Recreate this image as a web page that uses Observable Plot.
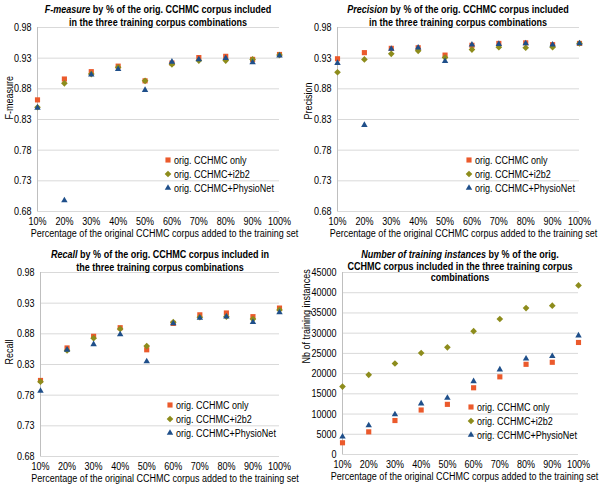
<!DOCTYPE html>
<html><head><meta charset="utf-8">
<script src="https://cdn.jsdelivr.net/npm/d3@7"></script>
<script src="https://cdn.jsdelivr.net/npm/@observablehq/plot@0.6"></script>
<style>
body{margin:0;background:#fff;}
#wrap{position:relative;width:600px;height:489px;overflow:hidden;background:#fff;}
.panel{position:absolute;}
.panel svg{display:block;}
.title{position:absolute;text-align:center;font-weight:bold;font-size:11px;color:#000;white-space:nowrap;transform:scaleX(0.82);transform-origin:50% 0;}
.overlay{position:absolute;left:0;top:0;pointer-events:none;}
</style>
</head><body>
<div id="wrap"></div>
<script>
const FONT = '"Liberation Sans",Arial,sans-serif';
const SQUEEZE = 0.82;

// Categories
const pct = [10, 20, 30, 40, 50, 60, 70, 80, 90, 100];
const seriesNames = ["orig. CCHMC only", "orig. CCHMC+i2b2", "orig. CCHMC+PhysioNet"];
const seriesColors = ["#EB5A2C", "#8D8C1C", "#1F4F8A"];
const seriesSymbols = ["square", "diamond2", "triangle"];
const xLabel = "Percentage of the original CCHMC corpus added to the training set";

// F-measure
const fOnly    = [0.862, 0.896, 0.908, 0.917, 0.893, 0.922, 0.931, 0.933, 0.928, 0.936];
const fI2b2    = [0.850, 0.889, 0.904, 0.915, 0.893, 0.920, 0.926, 0.926, 0.928, 0.935];
const fPhysio  = [0.849, 0.698, 0.903, 0.912, 0.878, 0.924, 0.928, 0.930, 0.923, 0.934];
// Precision
const pOnly    = [0.929, 0.939, 0.946, 0.947, 0.935, 0.951, 0.954, 0.955, 0.952, 0.954];
const pI2b2    = [0.907, 0.928, 0.937, 0.942, 0.931, 0.944, 0.948, 0.947, 0.948, 0.954];
const pPhysio  = [0.922, 0.821, 0.945, 0.947, 0.925, 0.952, 0.953, 0.954, 0.952, 0.954];
// Recall
const rOnly    = [0.804, 0.857, 0.876, 0.890, 0.854, 0.897, 0.911, 0.914, 0.908, 0.922];
const rI2b2    = [0.802, 0.853, 0.873, 0.888, 0.860, 0.899, 0.907, 0.908, 0.904, 0.919];
const rPhysio  = [0.787, 0.854, 0.863, 0.879, 0.835, 0.897, 0.906, 0.908, 0.899, 0.915];
// Number of training instances
const nOnly    = [2900, 5600, 8400, 11000, 12400, 16500, 19200, 22300, 22800, 27700];
const nI2b2    = [16800, 19700, 22500, 25100, 26500, 30500, 33500, 36200, 36800, 41800];
const nPhysio  = [4400, 7200, 9900, 12600, 14000, 18100, 21000, 23700, 24300, 29400];

// Tick labels
const scoreTicks = [0.68, 0.73, 0.78, 0.83, 0.88, 0.93, 0.98];
const countTicks = [0, 5000, 10000, 15000, 20000, 25000, 30000, 35000, 40000, 45000];

const panels = [
  {left: 0, top: 0, h: 245, mL: 37, mR: 21, mT: 27, mB: 34, domain: [0.68, 0.98], ticks: scoreTicks, fmt: d3.format(".2f"),
   yLabel: "F-measure", yLabX: 9, values: [fOnly, fI2b2, fPhysio],
   title: "<i>F-measure</i> by % of the orig. CCHMC corpus included<br>in the three training corpus combinations", lh: 13, tTop: 3, legX: 168, legY: 160, xdx: 6},
  {left: 300, top: 0, h: 245, mL: 37, mR: 21, mT: 27, mB: 34, domain: [0.68, 0.98], ticks: scoreTicks, fmt: d3.format(".2f"),
   yLabel: "Precision", yLabX: 8, values: [pOnly, pI2b2, pPhysio],
   title: "<i>Precision</i> by % of the orig. CCHMC corpus included<br>in the three training corpus combinations", lh: 13, tTop: 3, legX: 169, legY: 160, xdx: 5},
  {left: 0, top: 245, h: 244, mL: 40, mR: 21, mT: 27, mB: 33, domain: [0.68, 0.98], ticks: scoreTicks, fmt: d3.format(".2f"),
   yLabel: "Recall", yLabX: 9, values: [rOnly, rI2b2, rPhysio],
   title: "<i>Recall</i> by % of the orig. CCHMC corpus included in<br>the three training corpus combinations", lh: 13, tTop: 3, legX: 170, legY: 160, xdx: 5},
  {left: 300, top: 245, h: 244, mL: 42, mR: 22, mT: 27, mB: 35, domain: [0, 45000], ticks: countTicks, fmt: d => String(d),
   yLabel: "Nb of training instances", yLabX: 6, values: [nOnly, nI2b2, nPhysio],
   title: "<i>Number of training instances</i> by % of the orig.<br>CCHMC corpus included in the three training corpus<br>combinations", lh: 11.5, tTop: 4, legX: 171, legY: 162, xdx: 4}
];

const wrap = document.getElementById("wrap");
const symMap = {square: d3.symbolSquare, diamond2: d3.symbolDiamond2, triangle: d3.symbolTriangle};
const radius = [2.9, 3.0, 2.4];

for (const p of panels) {
  const div = document.createElement("div");
  div.className = "panel";
  div.style.left = p.left + "px";
  div.style.top = p.top + "px";
  div.style.width = "300px";
  div.style.height = p.h + "px";

  const dotMarks = p.values.map((vals, i) =>
    Plot.dot(pct.map((x, j) => ({pct: x, v: vals[j]})), {
      x: "pct", y: "v", symbol: seriesSymbols[i], fill: seriesColors[i], stroke: "none", r: radius[i]
    })
  );

  const chart = Plot.plot({
    width: 300, height: p.h,
    marginLeft: p.mL, marginRight: p.mR, marginTop: p.mT, marginBottom: p.mB,
    style: {fontFamily: FONT, fontSize: "11px", background: "transparent", color: "#000"},
    x: {type: "linear", domain: [10, 100], ticks: pct, tickFormat: d => d + "%", tickSize: 0, tickPadding: 6, label: null},
    y: {domain: p.domain, ticks: p.ticks, tickFormat: p.fmt, tickSize: 0, tickPadding: 6, label: null},
    marks: [
      Plot.ruleY(p.ticks, {stroke: "#d9d9d9"}),
      Plot.ruleX([10], {stroke: "#bfbfbf"}),
      ...dotMarks,
      Plot.text([p.yLabel], {frameAnchor: "left", rotate: -90, dx: p.yLabX - p.mL, fontSize: 11, fill: "#000"}),
      Plot.text([xLabel], {frameAnchor: "bottom", dy: 25, dx: p.xdx, fontSize: 11, fill: "#000"})
    ]
  });
  div.appendChild(chart);

  // Title
  const t = document.createElement("div");
  t.className = "title";
  t.style.fontFamily = FONT;
  t.style.lineHeight = p.lh + "px";
  const cx = (p.mL + 300 - p.mR) / 2;
  t.style.left = (cx - 150) + "px";
  t.style.width = "300px";
  t.style.top = p.tTop + "px";
  t.innerHTML = p.title;
  div.appendChild(t);

  // Legend overlay
  const ov = d3.create("svg").attr("class", "overlay").attr("width", 300).attr("height", p.h)
    .style("font-family", FONT).style("font-size", "11px");
  seriesNames.forEach((name, i) => {
    const y = p.legY + i * 14;
    ov.append("path")
      .attr("d", d3.symbol(symMap[seriesSymbols[i]], Math.PI * radius[i] * radius[i])())
      .attr("transform", `translate(${p.legX},${y})`)
      .attr("fill", seriesColors[i]);
    ov.append("text").attr("transform", `translate(${p.legX + 6},${y})`).attr("dy", "0.35em").attr("fill", "#000").text(name);
  });
  div.appendChild(ov.node());

  wrap.appendChild(div);
}

// Condense all SVG texts horizontally around their own anchor point (narrow lettering of the original)
for (const el of wrap.querySelectorAll("svg text")) {
  const ax = parseFloat(el.getAttribute("x")) || 0;
  const ay = parseFloat(el.getAttribute("y")) || 0;
  const tr = el.getAttribute("transform") || "";
  el.setAttribute("transform", `${tr} translate(${ax},${ay}) scale(${SQUEEZE},1) translate(${-ax},${-ay})`.trim());
}
</script>
</body></html>
